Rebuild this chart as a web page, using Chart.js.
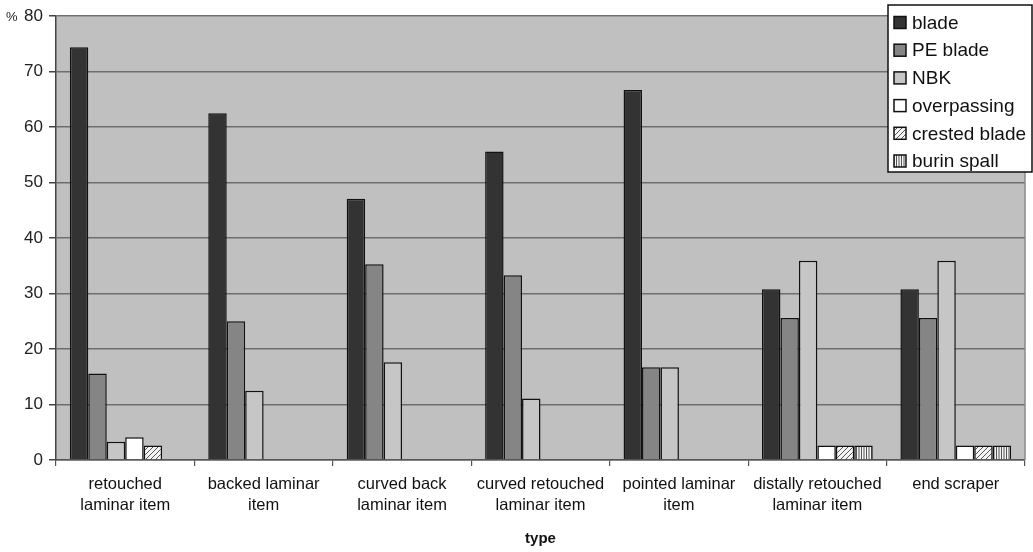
<!DOCTYPE html>
<html><head><meta charset="utf-8">
<script src="https://cdn.jsdelivr.net/npm/chart.js@4/dist/chart.umd.min.js"></script>
<style>html,body{margin:0;padding:0;background:#fff}#wrap{width:1033px;height:552px;position:relative}</style>
</head><body><div id="wrap"><canvas id="c"></canvas></div>
<script>
const categories = [["retouched","laminar item"],["backed laminar","item"],["curved back","laminar item"],["curved retouched","laminar item"],["pointed laminar","item"],["distally retouched","laminar item"],["end scraper"]];
const seriesNames = ["blade","PE blade","NBK","overpassing","crested blade","burin spall"];
const blade        = [74.4, 62.5, 47.1, 55.6, 66.7, 30.8, 30.8];
const peBlade      = [15.6, 25.0, 35.3, 33.3, 16.7, 25.6, 25.6];
const nbk          = [3.3, 12.5, 17.6, 11.1, 16.7, 35.9, 35.9];
const overpassing  = [4.1, null, null, null, null, 2.6, 2.6];
const crestedBlade = [2.6, null, null, null, null, 2.6, 2.6];
const burinSpall   = [null, null, null, null, null, 2.6, 2.6];
const yMin = 0, yMax = 80, yStep = 10;
const xTitle = "type";
const yUnit = "%";

const FONT = "'Liberation Sans', Arial, sans-serif";
const canvas = document.getElementById('c');
const ctx0 = canvas.getContext('2d');

function makePattern(kind){
  const c = document.createElement('canvas');
  c.width = 5; c.height = 5;
  const g = c.getContext('2d');
  g.fillStyle = '#f4f4f4'; g.fillRect(0,0,5,5);
  g.strokeStyle = '#555'; g.fillStyle = '#555'; g.lineWidth = 1;
  if (kind === 'diag') {
    g.beginPath();
    g.moveTo(-1,6); g.lineTo(6,-1);
    g.moveTo(-1,1); g.lineTo(1,-1);
    g.moveTo(4,6); g.lineTo(6,4);
    g.stroke();
  } else {
    g.fillRect(1,0,1,5);
    g.fillRect(3.5,0,1,5);
  }
  return ctx0.createPattern(c,'repeat');
}
const fills = ['#333333', '#858585', '#c6c6c6', '#ffffff', makePattern('diag'), makePattern('vert')];
const seriesData = [blade, peBlade, nbk, overpassing, crestedBlade, burinSpall];

const datasets = seriesNames.map((n,i)=>({
  label: n, data: seriesData[i], backgroundColor: fills[i],
  borderColor: '#111', borderWidth: 1.5,
  categoryPercentage: 0.8, barPercentage: 1.0
}));

const bgPlugin = {
  id: 'bg',
  beforeDraw(chart){
    const {ctx, chartArea:a} = chart;
    ctx.save(); ctx.fillStyle = '#c0c0c0';
    ctx.fillRect(a.left, a.top, a.right-a.left, a.bottom-a.top);
    ctx.restore();
  },
  beforeDatasetsDraw(chart){
    const {ctx, chartArea:a} = chart;
    ctx.save(); ctx.strokeStyle = '#8a8a8a'; ctx.lineWidth = 1.5;
    ctx.beginPath(); ctx.moveTo(a.right, a.top); ctx.lineTo(a.right, a.bottom); ctx.stroke();
    ctx.restore();
  },
  afterDraw(chart){
    const {ctx, chartArea:a} = chart;
    ctx.save();
    // unit
    ctx.fillStyle = '#222'; ctx.font = '13px ' + FONT;
    ctx.textBaseline = 'middle'; ctx.textAlign = 'left';
    ctx.fillText(yUnit, 6, a.top + 1);
    // legend box
    const x0 = 888, y0 = 5, w = 144, h = 167;
    ctx.fillStyle = '#fff'; ctx.fillRect(x0, y0, w, h);
    ctx.strokeStyle = '#111'; ctx.lineWidth = 1.5; ctx.strokeRect(x0, y0, w, h);
    ctx.font = '19px ' + FONT; ctx.textBaseline = 'middle';
    chart.data.datasets.forEach((ds,i)=>{
      const cy = 22.5 + i*27.7;
      ctx.fillStyle = ds.backgroundColor;
      ctx.fillRect(894, cy-6, 12, 12);
      ctx.strokeStyle = '#111'; ctx.lineWidth = 1.5; ctx.strokeRect(894, cy-6, 12, 12);
      ctx.fillStyle = '#111'; ctx.fillText(ds.label, 912, cy+1);
    });
    ctx.restore();
  }
};

new Chart(canvas, {
  type: 'bar',
  data: { labels: categories, datasets },
  plugins: [bgPlugin],
  options: {
    responsive: true, maintainAspectRatio: false, animation: false,
    layout: { padding: { top: 16, right: 8, left: 0, bottom: 4 } },
    plugins: { legend: { display: false }, tooltip: { enabled: false } },
    scales: {
      x: {
        grid: { display: true, drawOnChartArea: false, drawTicks: true, tickLength: 6, color: '#555', offset: true, lineWidth: 1.2 },
        border: { color: '#555', width: 1.5 },
        ticks: { font: { family: FONT, size: 16.5, lineHeight: 1.28 }, color: '#111', padding: 8, maxRotation: 0, autoSkip: false },
        title: { display: true, text: xTitle, font: { family: FONT, size: 15, weight: 'bold' }, color: '#111', padding: { top: 6, bottom: 0 } },
        afterFit(s){ s.height = 88; }
      },
      y: {
        min: yMin, max: yMax,
        ticks: { stepSize: yStep, font: { family: FONT, size: 17 }, color: '#222', padding: 6 },
        grid: { color: '#6e6e6e', lineWidth: 1.5, tickLength: 7, tickColor: '#444' },
        border: { color: '#444', width: 1.5 },
        afterFit(s){ s.width = 56; }
      }
    }
  }
});
</script></body></html>
